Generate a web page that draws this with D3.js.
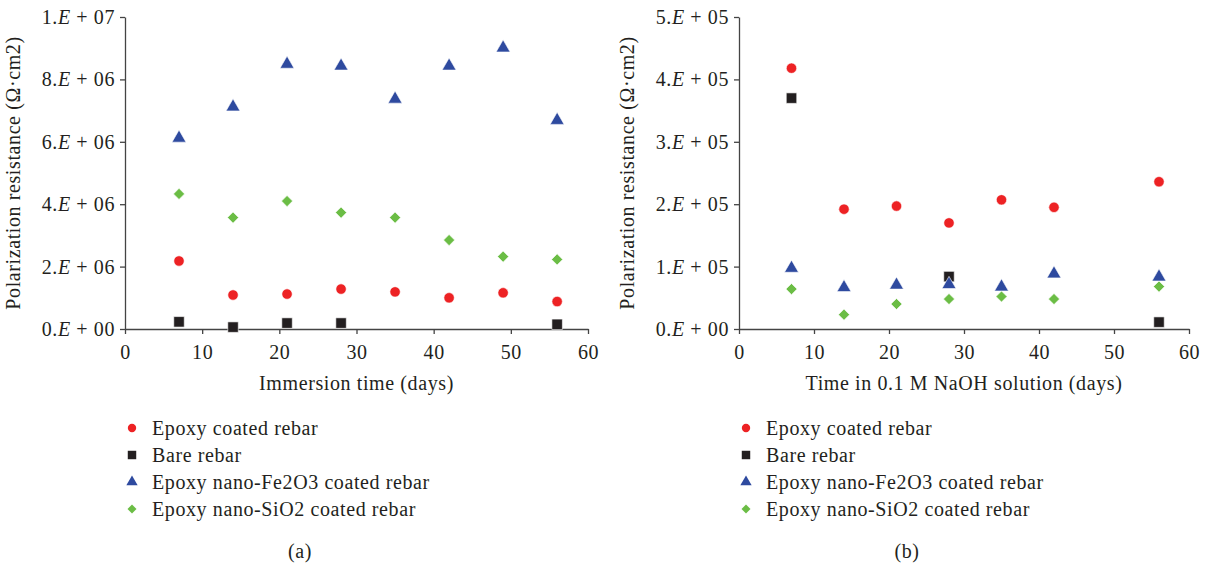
<!DOCTYPE html>
<html><head><meta charset="utf-8">
<script src="https://cdn.jsdelivr.net/npm/d3@7"></script>
<style>body{margin:0;background:#fff}svg{display:block}text{font-family:"Liberation Serif","DejaVu Serif",serif;fill:#231f20;font-size:20px;letter-spacing:0.6px}</style>
</head><body>
<svg id="c" width="1208" height="565"></svg>
<script>
const seriesNames = ["Epoxy coated rebar","Bare rebar","Epoxy nano-Fe2O3 coated rebar","Epoxy nano-SiO2 coated rebar"];
const seriesColors = ["#ed2224","#231f20","#2e4a9f","#6bbd45"];
const seriesShapes = ["circle","square","triangle","diamond"];
const xTicks = [0,10,20,30,40,50,60];

// Panel (a): immersion time (days)
const daysA = [7,14,21,28,35,42,49,56];
const epoxyA = [2.18e6,1.09e6,1.12e6,1.28e6,1.19e6,1.0e6,1.16e6,0.88e6];
const bareDaysA = [7,14,21,28,56];
const bareA = [0.23e6,0.06e6,0.19e6,0.19e6,0.15e6];
const fe2o3A = [6.15e6,7.15e6,8.52e6,8.46e6,7.4e6,8.46e6,9.04e6,6.72e6];
const sio2A = [4.33e6,3.57e6,4.1e6,3.73e6,3.57e6,2.85e6,2.32e6,2.23e6];
const yTicksA = [0,2e6,4e6,6e6,8e6,1e7];

// Panel (b): time in 0.1 M NaOH (days)
const daysB = [7,14,21,28,35,42,56];
const epoxyB = [4.18e5,1.92e5,1.97e5,1.70e5,2.07e5,1.95e5,2.36e5];
const bareDaysB = [7,28,56];
const bareB = [3.70e5,0.84e5,0.11e5];
const fe2o3B = [0.99e5,0.68e5,0.72e5,0.73e5,0.69e5,0.90e5,0.85e5];
const sio2B = [0.64e5,0.23e5,0.40e5,0.48e5,0.52e5,0.48e5,0.68e5];
const yTicksB = [0,1e5,2e5,3e5,4e5,5e5];

const svg = d3.select("#c");

function symPath(shape, scale){
  const t = {circle:d3.symbolCircle,square:d3.symbolSquare,triangle:d3.symbolTriangle,diamond:d3.symbolSquare}[shape];
  const size = {circle:85,square:110,triangle:85,diamond:62}[shape]*scale;
  return d3.symbol().type(t).size(size)();
}

function fmtE(v){
  const e = v===0?0:Math.floor(Math.log10(v)+1e-9);
  const m = v===0?0:Math.round(v/Math.pow(10,e));
  return {m:m+".", e:(e<10?"0":"")+e};
}

function panel(o){
  const x = d3.scaleLinear().domain([0,60]).range([o.x0,o.x1]);
  const y = d3.scaleLinear().domain([0,o.ymax]).range([329,17]);
  const g = svg.append("g");
  const ax = g.append("g").attr("transform","translate(0,329)")
    .call(d3.axisBottom(x).tickValues(xTicks).tickSize(5).tickSizeOuter(0).tickFormat(d3.format("d")));
  ax.selectAll("text").attr("dy","0").attr("y",30).style("font-size","20px").attr("font-family",null);
  const ay = g.append("g").attr("transform",`translate(${o.x0},0)`)
    .call(d3.axisLeft(y).tickValues(o.yTicks).tickSize(5).tickSizeOuter(0).tickFormat(""));
  [ax,ay].forEach(a=>{a.select(".domain").attr("stroke","#444").attr("stroke-width",1.3);a.selectAll("line").attr("stroke","#444").attr("stroke-width",1.3);});
  o.yTicks.forEach(v=>{
    const f = fmtE(v);
    const t = g.append("text").attr("x",o.x0-10).attr("y",y(v)+7).attr("text-anchor","end");
    t.append("tspan").text(f.m);
    t.append("tspan").attr("font-style","italic").text("E");
    t.append("tspan").text(" + "+f.e);
  });
  g.append("text").attr("x",(o.x0+o.x1)/2).attr("y",390).attr("text-anchor","middle").text(o.xTitle);
  g.append("text").attr("transform",`translate(${o.yTitleX},173) rotate(-90)`).attr("text-anchor","middle").text("Polarization resistance (\u03A9\u00B7cm2)");
  const sets = [[o.days,o.epoxy],[o.bareDays,o.bare],[o.days,o.fe],[o.days,o.si]];
  sets.forEach((s,i)=>{
    const sh = seriesShapes[i];
    g.append("g").selectAll("path").data(s[0].map((d,j)=>[d,s[1][j]])).join("path")
      .attr("d",symPath(sh,1))
      .attr("transform",d=>`translate(${x(d[0])},${y(d[1])+(sh==="triangle"?1:0)})`+(sh==="diamond"?" rotate(45)":""))
      .attr("fill",seriesColors[i]).attr("stroke","#fff").attr("stroke-width",0.6);
  });
  const lg = g.append("g");
  seriesNames.forEach((n,i)=>{
    const yy = 428 + i*27;
    const sh = seriesShapes[i];
    lg.append("path").attr("d",symPath(sh,0.65)).attr("transform",`translate(${o.legX},${yy})`+(sh==="diamond"?" rotate(45)":"")).attr("fill",seriesColors[i]);
    lg.append("text").attr("x",o.legX+20).attr("y",yy+7).text(n);
  });
  g.append("text").attr("x",o.labX).attr("y",558).attr("text-anchor","middle").text(o.label);
}

panel({x0:125,x1:588,ymax:1e7,yTicks:yTicksA,days:daysA,epoxy:epoxyA,bareDays:bareDaysA,bare:bareA,fe:fe2o3A,si:sio2A,
  xTitle:"Immersion time (days)",yTitleX:20,legX:132,labX:300,label:"(a)"});
panel({x0:739,x1:1189,ymax:5e5,yTicks:yTicksB,days:daysB,epoxy:epoxyB,bareDays:bareDaysB,bare:bareB,fe:fe2o3B,si:sio2B,
  xTitle:"Time in 0.1 M NaOH solution (days)",yTitleX:634,legX:746,labX:907,label:"(b)"});
</script>
</body></html>
